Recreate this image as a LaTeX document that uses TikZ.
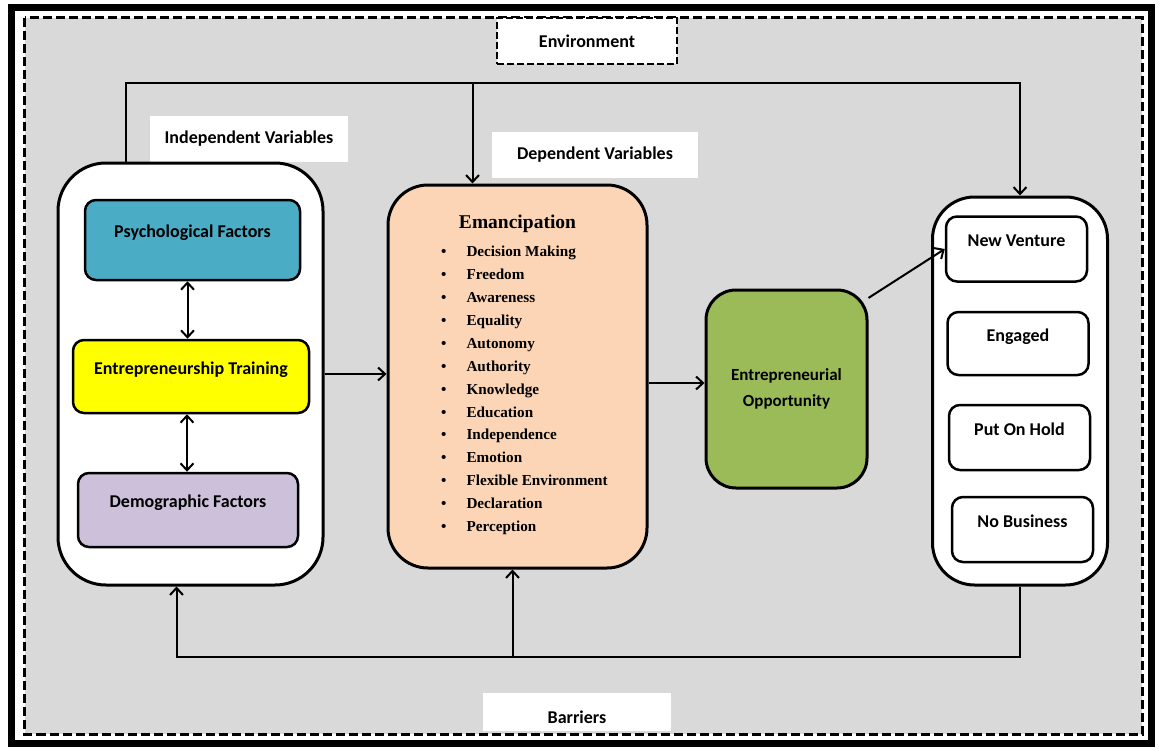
\documentclass[tikz,border=0pt]{standalone}
\usepackage{fontspec}
\newfontfamily\carlito{Carlito}
\newfontfamily\libserif{Liberation Serif}
\usetikzlibrary{arrows.meta}
\definecolor{panelgray}{HTML}{D9D9D9}
\definecolor{psychblue}{HTML}{4BACC6}
\definecolor{trainyellow}{HTML}{FFFF00}
\definecolor{demolilac}{HTML}{CCC0DA}
\definecolor{emanpeach}{HTML}{FBD5B5}
\definecolor{oppgreen}{HTML}{9BBB59}
\newcommand\fwsans{\carlito\bfseries\fontsize{18}{21}\selectfont}
\newcommand\fwserif{\libserif\bfseries\fontsize{15.2}{22.9}\selectfont}
\tikzset{
  fw/link/.style={line width=2pt, -{Straight Barb[length=7pt,width=13pt]}},
  fw/both/.style={line width=2pt, {Straight Barb[length=7pt,width=13pt]}-{Straight Barb[length=7pt,width=13pt]}},
  fw/lift/.style={text height=13pt, text depth=18pt},
  fw/group/.style={draw, fill=white, line width=3pt, rounded corners=42pt},
  fw/factor/.style={draw, line width=2.5pt, rounded corners=11pt, font=\fwsans, fw/lift},
  fw/outcome/.style={draw, fill=white, line width=2.5pt, rounded corners=11pt, font=\fwsans, fw/lift,
    minimum width=141pt, minimum height=65pt},
  fw/tag/.style={fill=white, inner sep=0pt, font=\fwsans}
}

\begin{document}
\begin{tikzpicture}[x=1pt, y=-1pt]
  \useasboundingbox[fill=white] (0,0) rectangle (1159,749);
  % frames
  \draw[line width=7pt] (11.5,7.5) rectangle (1151,743);
  \draw[fill=panelgray, line width=3pt, dash pattern=on 9pt off 4pt] (24.5,18) rectangle (1142,734);
  \coordinate (envrow) at (0,83);
  \coordinate (barrow) at (0,657);

  % labels
  \node[fw/tag, draw, line width=2pt, dash pattern=on 7pt off 3pt, minimum width=180pt, minimum height=46pt] (env) at (587,41) {Environment};
  \node[fw/tag, minimum width=198pt, minimum height=46pt] (indeptag) at (249,139) {Independent Variables};
  \node[fw/tag, minimum width=206pt, minimum height=46pt] (deptag) at (595,155) {Dependent Variables};
  \node[fw/tag, minimum width=188pt, minimum height=38pt, text height=24pt, text depth=2pt] (bartag) at (577,712) {Barriers};

  % independent variables
  \node[fw/group, minimum width=265pt, minimum height=422pt, rounded corners=48pt] (indep) at (190.5,374) {};
  \node[fw/factor, fill=psychblue, minimum width=215pt, minimum height=80pt] (psych) at (192.5,240) {Psychological Factors};
  \node[fw/factor, fill=trainyellow, minimum width=236pt, minimum height=73pt] (train) at (191,376.5) {Entrepreneurship Training};
  \node[fw/factor, fill=demolilac, minimum width=220pt, minimum height=74pt] (demo) at (188,510) {Demographic Factors};

  % dependent variables
  \node[draw, fill=emanpeach, line width=3pt, rounded corners=40pt, minimum width=259pt, minimum height=383pt] (eman) at (517.5,376.5) {};
  \node[font=\libserif\bfseries\fontsize{19.5}{22}\selectfont] (emantitle) at ([yshift=-40pt]eman.north) {Emancipation};
  \node[anchor=north west, inner sep=0pt, font=\fwserif] (emanlist) at ([xshift=54.5pt,yshift=-57pt]eman.north west) {%
    \begin{tabular}{@{}l@{\hspace{20pt}}l@{}}
      \textbullet & Decision Making\\
      \textbullet & Freedom\\
      \textbullet & Awareness\\
      \textbullet & Equality\\
      \textbullet & Autonomy\\
      \textbullet & Authority\\
      \textbullet & Knowledge\\
      \textbullet & Education\\
      \textbullet & Independence\\
      \textbullet & Emotion\\
      \textbullet & Flexible Environment\\
      \textbullet & Declaration\\
      \textbullet & Perception
    \end{tabular}};

  \node[draw, fill=oppgreen, line width=3pt, rounded corners=30pt, minimum width=161pt, minimum height=198pt,
    align=center, font=\carlito\bfseries\fontsize{17}{26}\selectfont] (opp) at (786.5,389) {Entrepreneurial\\Opportunity};

  % outcomes
  \node[fw/group, minimum width=175pt, minimum height=388pt] (rightbox) at (1020,391) {};
  \node[fw/outcome] (venture) at (1016.5,249) {New Venture};
  \node[fw/outcome, minimum height=63pt] (engaged) at (1018,343.5) {Engaged};
  \node[fw/outcome] (hold) at (1019.5,437.5) {Put On Hold};
  \node[fw/outcome] (nobiz) at (1022.5,529.5) {No Business};

  % connectors
  \draw[fw/both] ([xshift=-5pt]psych.south) -- ([xshift=-5pt]psych.south |- train.north);
  \draw[fw/both] ([xshift=-4pt]train.south) -- ([xshift=-4pt]train.south |- demo.north);
  \draw[fw/link] (indep.east) -- (indep.east -| eman.west);
  \draw[fw/link] ([yshift=6pt]opp.west -| eman.east) -- ([yshift=6pt]opp.west);
  \draw[fw/link] (opp.48) -- (venture.west);
  \draw[fw/link] ([xshift=-65pt]indep.north) |- (envrow -| rightbox.north) -- (rightbox.north);
  \draw[fw/link] ([xshift=-45pt]eman.north |- envrow) -- ([xshift=-45pt]eman.north);
  \draw[fw/link] (rightbox.south) |- ([xshift=-14pt]indep.south |- barrow) -- ([xshift=-14pt]indep.south);
  \draw[fw/link] ([xshift=-5pt]eman.south |- barrow) -- ([xshift=-5pt]eman.south);
\end{tikzpicture}
\end{document}
